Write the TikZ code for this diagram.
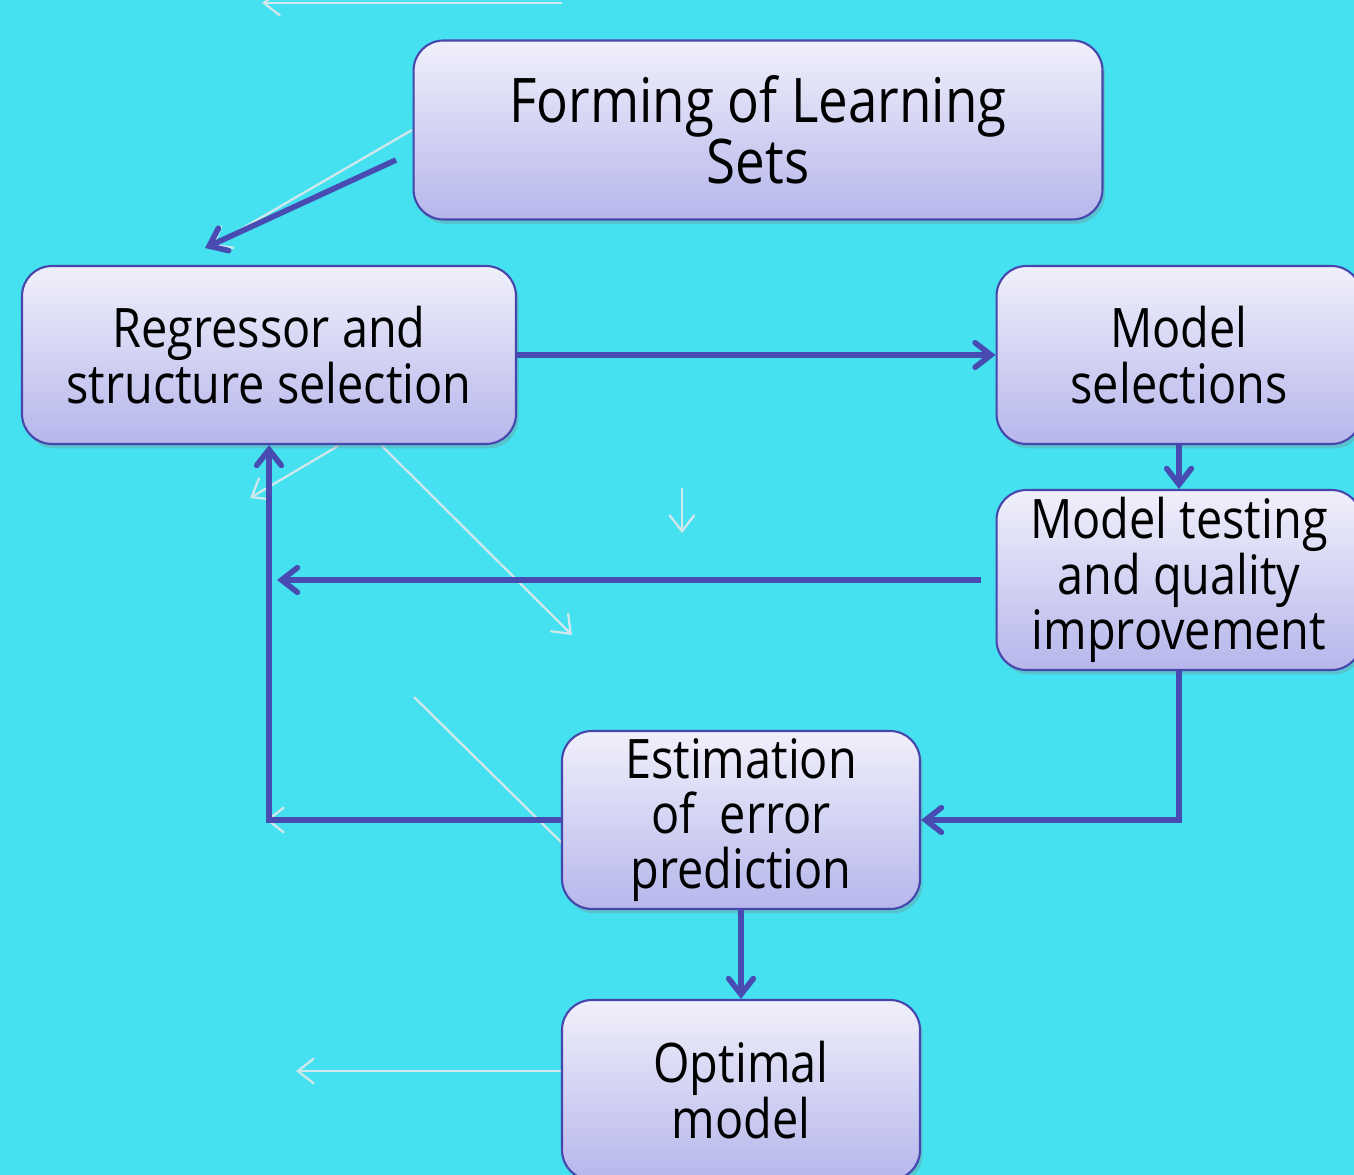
\documentclass[tikz,border=0pt]{standalone}
\usepackage{fontspec}
\setmainfont[FakeStretch=0.86]{Open Sans}
\usetikzlibrary{arrows.meta,shadows}
\definecolor{bgcyan}{RGB}{69,225,240}
\definecolor{boxline}{RGB}{70,70,172}
\definecolor{boxtop}{RGB}{240,240,251}
\definecolor{boxbot}{RGB}{182,182,236}
\definecolor{linkblue}{RGB}{72,76,178}
\definecolor{ghostgrey}{RGB}{208,232,236}
\begin{document}
\begin{tikzpicture}[x=0.02cm,y=-0.02cm,
    >={Straight Barb[length=9pt,width=14pt,line cap=round]},
    box/.style={draw=boxline,line width=1.2pt,rounded corners=17pt,
        top color=boxtop,bottom color=boxbot,align=center,inner sep=0pt,
        drop shadow={opacity=0.3,shadow xshift=1.5pt,shadow yshift=-2.5pt},
        font={\fontsize{31}{31.5}\selectfont}},
    link/.style={draw=linkblue,line width=3.2pt},
    ghost/.style={draw=ghostgrey,line width=1.3pt}]
    \fill[bgcyan] (0,0) rectangle (1354,1175);
    \useasboundingbox (0,0) rectangle (1354,1175);
    \clip (0,0) rectangle (1354,1175);
    % faint arrows left over from the slide
    \foreach \p/\q in {{562,3}/{262,3},{412,130}/{212,246},{338,446}/{250,498},
        {382,446}/{572,635},{682,488}/{682,533},{562,820}/{266,820},{562,1071}/{296,1071}}{
        \draw[ghost,->] (\p) -- (\q);
    }
    \draw[ghost] (414,697) -- (562,843);
    % boxes
    \node[box,minimum width=13.78cm,minimum height=3.58cm,
        font={\fontsize{35}{33}\selectfont}] (F) at (758,130) {Forming of Learning\\Sets};
    \node[box,minimum width=9.88cm,minimum height=3.56cm] (R) at (269,355)
        {Regressor and\\structure selection};
    \node[box,minimum width=7.3cm,minimum height=3.56cm] (MS) at (1179,355)
        {Model\\selections};
    \node[box,minimum width=7.3cm,minimum height=3.6cm] (MT) at (1179,580)
        {Model testing\\and quality\\improvement};
    \node[box,minimum width=7.16cm,minimum height=3.56cm] (E) at (741,820)
        {Estimation\\of~~error\\prediction};
    \node[box,minimum width=7.16cm,minimum height=3.6cm] (O) at (741,1090)
        {Optimal\\model};
    % connectors
    \coordinate (f1) at (396,160);
    \coordinate (r1) at (205,248);
    \coordinate (t1) at (981,580);
    \coordinate (t2) at (277,580);
    \draw[link,->] (f1) -- (r1);
    \draw[link,->] (R.east) -- (MS.west);
    \draw[link,->] (MS.south) -- (MT.north);
    \draw[link,->] (t1) -- (t2);
    \draw[link,->] (MT.south) |- (E.east);
    \draw[link,->] (E.west) -| (R.south);
    \draw[link,->] (E.south) -- (O.north);
\end{tikzpicture}
\end{document}
